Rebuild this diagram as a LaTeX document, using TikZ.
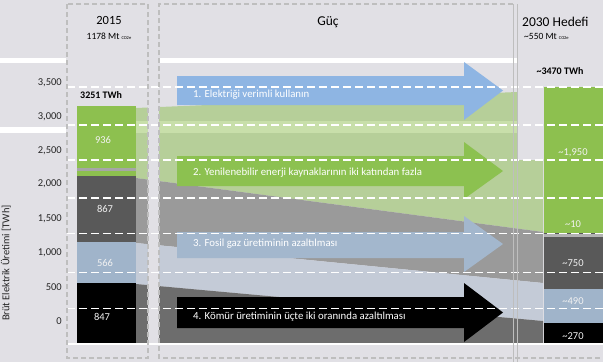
\documentclass[tikz,border=0pt]{standalone}
\usepackage{fontspec}
\setmainfont{Carlito}
\definecolor{bg}{HTML}{E1E0E5}
\definecolor{bargreen}{HTML}{8DC04F}
\definecolor{flowgreen}{HTML}{B6CF99}
\definecolor{flowgreenlt}{HTML}{C8DFAA}
\definecolor{bardark}{HTML}{595959}
\definecolor{flowgrey}{HTML}{9A9A9A}
\definecolor{barblue}{HTML}{A0B4CA}
\definecolor{flowblue}{HTML}{C4CBD7}
\definecolor{flowdark}{HTML}{6D6D6D}
\definecolor{arrblue}{HTML}{8EB5E3}
\definecolor{arrgreen}{HTML}{8CC150}
\definecolor{arrsteel}{HTML}{A3B7CD}
\definecolor{panelline}{HTML}{BEBEBE}
\definecolor{axistext}{HTML}{262626}
\definecolor{valtext}{HTML}{F2F2F2}
\tikzset{
  panelborder/.style={draw=panelline, line width=1.4pt, dash pattern=on 5pt off 3pt},
  gridw/.style={draw=white, line width=1.6pt, dash pattern=on 8pt off 4pt},
  ticklbl/.style={anchor=east, inner sep=0pt, font=\fontsize{10.5}{12}\selectfont, text=axistext},
  vallbl/.style={inner sep=0pt, font=\fontsize{10.5}{12}\selectfont, text=valtext},
  arrtext/.style={anchor=base west, inner sep=0pt, font=\fontsize{10.8}{12}\selectfont, text=white},
  titlelbl/.style={inner sep=0pt, text=black},
  boldlbl/.style={inner sep=0pt, font=\fontsize{10}{12}\selectfont\bfseries, text=black},
}
\newcommand\tinyco{{\fontsize{4.5}{5}\selectfont CO\kern-0.2pt 2e}}
\begin{document}
\begin{tikzpicture}[x=1pt,y=-1pt]
\useasboundingbox (0,0) rectangle (603,362);
\fill[bg] (0,0) rectangle (603,362);
% white bars
\fill[white] (0,58) rectangle (66,63);
\fill[white] (159,58) rectangle (517,63);
\fill[white] (0,127) rectangle (66,133);
% flows
\fill[flowgreen] (136,108) -- (517,92) -- (517,160) -- (543,160) -- (543,232) -- (136,178) -- cycle;
\fill[flowgreenlt] (136,121) rectangle (517,133);
\fill[flowgrey] (136,178) -- (543,232) -- (543,283) -- (136,243) -- cycle;
\fill[flowblue] (136,243) -- (543,283) -- (543,321) -- (136,284) -- cycle;
\fill[flowdark] (136,284) -- (543,321) -- (543,344) -- (136,344) -- cycle;
\fill[bg] (148,64) rectangle (159,344);
% 2015 bar
\fill[bargreen] (77,106) rectangle (136,176);
\fill[gray!70] (77,168) rectangle (136,171);
\fill[bardark] (77,176) rectangle (136,242);
\fill[barblue] (77,242) rectangle (136,283);
\fill[black] (77,283) rectangle (136,344);
% 2030 bar
\fill[bargreen] (544,87) rectangle (603,233);
\fill[bardark] (544,233) rectangle (603,289);
\fill[gray!60] (544,233.5) rectangle (603,236.5);
\fill[barblue] (544,289) rectangle (603,323);
\fill[black] (544,323) rectangle (603,344);
% arrows
\fill[arrblue] (177,76) -- (464,76) -- (464,62) -- (503,90.5) -- (464,120) -- (464,105) -- (177,105) -- cycle;
\fill[arrgreen] (177,156) -- (464,156) -- (464,142) -- (503,171) -- (464,199) -- (464,186) -- (177,186) -- cycle;
\fill[arrsteel] (177,232) -- (464,232) -- (464,216) -- (503,244) -- (464,272) -- (464,258) -- (177,258) -- cycle;
\fill[black] (177,297) -- (464,297) -- (464,283) -- (503,312.5) -- (464,342) -- (464,328) -- (177,328) -- cycle;
% bottom white line
\draw[white, line width=1.5pt] (67,344) -- (603,344);
% gridlines
\foreach \gy in {87,124.7,160,197.7,233.3,272.3,308.3} {
  \draw[gridw] (67,\gy) -- (603,\gy);
}
% panel borders
\draw[panelborder] (67,4) rectangle (148,358);
\draw[panelborder] (513,4) -- (159,4) -- (159,358) -- (603,358);
\draw[panelline, line width=0.9pt] (513.3,4) -- (513.3,362);
\draw[panelline, line width=0.9pt] (517.7,4) -- (517.7,362);
% titles
\node[titlelbl, font=\fontsize{12.5}{14}\selectfont] (y2015) at (109,20) {2015};
\node[titlelbl, font=\fontsize{9.5}{11}\selectfont] (mt2015) at (109,36) {1178 Mt \tinyco};
\node[titlelbl, font=\fontsize{13.5}{15}\selectfont] (guc) at (328,22) {Güç};
\node[titlelbl, font=\fontsize{13.5}{15}\selectfont, anchor=west] (y2030) at (522,21.5) {2030 Hedefi};
\node[titlelbl, font=\fontsize{9.5}{11}\selectfont, anchor=west] (mt2030) at (524,36) {\textasciitilde550 Mt \tinyco};
\node[boldlbl, anchor=west] (tw2015) at (80,95) {3251 TWh};
\node[boldlbl] (tw2030) at (560,71) {\textasciitilde3470 TWh};
% axis
\node[ticklbl] (t3500) at (62,83) {3,500};
\node[ticklbl] (t3000) at (62,117) {3,000};
\node[ticklbl] (t2500) at (62,151) {2,500};
\node[ticklbl] (t2000) at (62,184) {2,000};
\node[ticklbl] (t1500) at (62,219) {1,500};
\node[ticklbl] (t1000) at (62,253) {1,000};
\node[ticklbl] (t500) at (62,287) {500};
\node[ticklbl] (t0) at (62,321) {0};
\node[inner sep=0pt, rotate=90, font=\fontsize{10.5}{12}\selectfont, text=axistext] (ytitle) at (6,263) {Brüt Elektrik Üretimi [TWh]};
% values 2015
\node[vallbl] (v936) at (103,140) {936};
\node[vallbl] (v867) at (105,209) {867};
\node[vallbl] (v566) at (105,263) {566};
\node[vallbl] (v847) at (102,317) {847};
% values 2030
\node[vallbl] (v1950) at (573,153) {\textasciitilde1,950};
\node[vallbl] (v10) at (573,224) {\textasciitilde10};
\node[vallbl] (v750) at (573,263) {\textasciitilde750};
\node[vallbl] (v490) at (573,301) {\textasciitilde490};
\node[vallbl] (v270) at (573,336) {\textasciitilde270};
% arrow texts
\node[arrtext] (a1) at (193,97.3) {1. Elektriği verimli kullanın};
\node[arrtext] (a2) at (193,175.5) {2. Yenilenebilir enerji kaynaklarının iki katından fazla};
\node[arrtext] (a3) at (193,246.7) {3. Fosil gaz üretiminin azaltılması};
\node[arrtext] (a4) at (193,319.5) {4. Kömür üretiminin üçte iki oranında azaltılması};
\end{tikzpicture}
\end{document}
